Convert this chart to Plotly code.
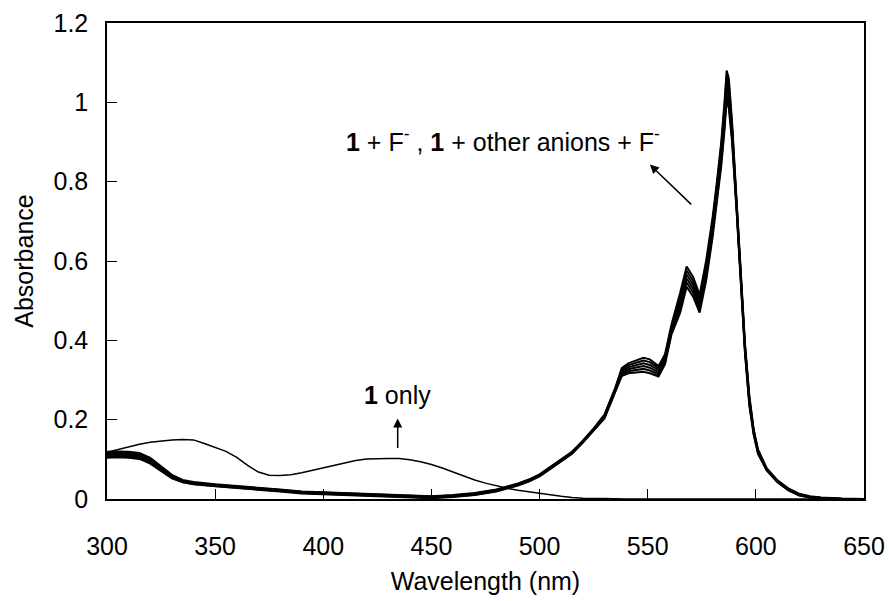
import plotly.graph_objects as go

# ---- data ----
wl_only = [300, 305, 310, 315, 320, 325, 330, 335, 340, 345, 350, 355, 360, 365, 370, 375,
           380, 385, 390, 395, 400, 405, 410, 415, 420, 425, 430, 435, 440, 445, 450, 455,
           460, 465, 470, 475, 480, 485, 490, 495, 500, 505, 510, 515, 520, 530, 540, 650]
abs_only = [0.118, 0.125, 0.132, 0.138, 0.143, 0.146, 0.149, 0.150, 0.149, 0.140, 0.130, 0.120,
            0.105, 0.085, 0.068, 0.060, 0.059, 0.061, 0.066, 0.072, 0.078, 0.085, 0.091, 0.097,
            0.101, 0.102, 0.102, 0.102, 0.099, 0.094, 0.087, 0.078, 0.068, 0.057, 0.048, 0.040,
            0.033, 0.027, 0.022, 0.018, 0.015, 0.011, 0.007, 0.004, 0.002, 0.001, 0.0, 0.0]

wl_f = [300, 305, 310, 315, 320, 325, 330, 335, 340, 350,
        360, 370, 380, 390, 400, 410, 420, 430, 440, 450,
        460, 470, 480, 490, 495, 500, 505, 510, 515, 520,
        525, 530, 535, 538, 541, 545, 548, 551, 555, 558,
        561, 565, 568, 571, 574, 577, 580, 582, 584, 585.5,
        586.5, 587.5, 589, 591, 593, 595, 597, 599, 601, 605,
        610, 615, 620, 625, 630, 635, 640, 650]

abs_f1 = [0.119, 0.120, 0.119, 0.116, 0.104, 0.083, 0.061, 0.048, 0.043, 0.037,
          0.033, 0.029, 0.024, 0.019, 0.017, 0.014, 0.012, 0.010, 0.008, 0.007,
          0.010, 0.015, 0.024, 0.039, 0.049, 0.062, 0.081, 0.099, 0.119, 0.147,
          0.178, 0.213, 0.280, 0.330, 0.342, 0.350, 0.356, 0.352, 0.335, 0.365,
          0.440, 0.520, 0.586, 0.560, 0.515, 0.600, 0.710, 0.800, 0.900, 1.000,
          1.080, 1.060, 0.950, 0.760, 0.560, 0.390, 0.260, 0.175, 0.125, 0.078,
          0.047, 0.027, 0.013, 0.007, 0.004, 0.002, 0.001, 0.0]
abs_f2 = [0.116, 0.117, 0.116, 0.113, 0.101, 0.080, 0.059, 0.046, 0.041, 0.036,
          0.032, 0.028, 0.023, 0.018, 0.016, 0.013, 0.011, 0.009, 0.007, 0.006,
          0.009, 0.014, 0.023, 0.038, 0.048, 0.061, 0.080, 0.098, 0.118, 0.146,
          0.176, 0.211, 0.278, 0.326, 0.337, 0.344, 0.349, 0.345, 0.330, 0.360,
          0.435, 0.510, 0.576, 0.550, 0.506, 0.590, 0.700, 0.790, 0.890, 0.990,
          1.065, 1.045, 0.940, 0.755, 0.555, 0.385, 0.255, 0.172, 0.122, 0.076,
          0.046, 0.026, 0.012, 0.006, 0.003, 0.001, 0.0, 0.0]
abs_f3 = [0.113, 0.114, 0.113, 0.110, 0.098, 0.078, 0.057, 0.045, 0.040, 0.035,
          0.031, 0.027, 0.022, 0.017, 0.015, 0.012, 0.010, 0.008, 0.006, 0.005,
          0.008, 0.013, 0.022, 0.037, 0.047, 0.060, 0.079, 0.097, 0.117, 0.145,
          0.175, 0.209, 0.276, 0.322, 0.332, 0.338, 0.342, 0.338, 0.325, 0.355,
          0.430, 0.500, 0.566, 0.540, 0.497, 0.580, 0.690, 0.780, 0.870, 0.970,
          1.050, 1.030, 0.930, 0.750, 0.550, 0.380, 0.250, 0.170, 0.120, 0.075,
          0.045, 0.025, 0.012, 0.006, 0.003, 0.001, 0.0, 0.0]
abs_f4 = [0.110, 0.111, 0.110, 0.107, 0.095, 0.075, 0.055, 0.044, 0.039, 0.034,
          0.030, 0.026, 0.021, 0.016, 0.014, 0.011, 0.009, 0.007, 0.005, 0.004,
          0.007, 0.012, 0.021, 0.036, 0.046, 0.059, 0.078, 0.096, 0.116, 0.144,
          0.174, 0.207, 0.274, 0.318, 0.327, 0.332, 0.335, 0.331, 0.319, 0.350,
          0.425, 0.490, 0.556, 0.530, 0.488, 0.570, 0.680, 0.770, 0.860, 0.960,
          1.035, 1.015, 0.920, 0.745, 0.545, 0.375, 0.245, 0.168, 0.118, 0.074,
          0.044, 0.024, 0.011, 0.005, 0.002, 0.001, 0.0, 0.0]
abs_f5 = [0.107, 0.108, 0.107, 0.104, 0.092, 0.073, 0.054, 0.043, 0.038, 0.033,
          0.029, 0.025, 0.020, 0.015, 0.013, 0.010, 0.008, 0.006, 0.004, 0.003,
          0.006, 0.011, 0.020, 0.035, 0.045, 0.058, 0.077, 0.095, 0.115, 0.143,
          0.173, 0.205, 0.272, 0.314, 0.322, 0.326, 0.328, 0.324, 0.314, 0.345,
          0.420, 0.480, 0.546, 0.520, 0.479, 0.560, 0.670, 0.760, 0.850, 0.940,
          1.020, 1.000, 0.910, 0.740, 0.540, 0.370, 0.240, 0.165, 0.116, 0.073,
          0.043, 0.023, 0.010, 0.004, 0.002, 0.0, 0.0, 0.0]
abs_f6 = [0.104, 0.105, 0.104, 0.101, 0.089, 0.071, 0.052, 0.042, 0.037, 0.032,
          0.028, 0.024, 0.019, 0.014, 0.012, 0.009, 0.007, 0.005, 0.003, 0.002,
          0.005, 0.010, 0.019, 0.034, 0.044, 0.057, 0.076, 0.094, 0.114, 0.142,
          0.172, 0.203, 0.270, 0.310, 0.317, 0.320, 0.321, 0.317, 0.309, 0.340,
          0.415, 0.470, 0.535, 0.510, 0.470, 0.550, 0.660, 0.750, 0.840, 0.930,
          1.005, 0.985, 0.900, 0.735, 0.535, 0.365, 0.235, 0.162, 0.114, 0.072,
          0.042, 0.022, 0.009, 0.004, 0.001, 0.0, 0.0, 0.0]

x_ticks = [300, 350, 400, 450, 500, 550, 600, 650]
y_ticks = [0, 0.2, 0.4, 0.6, 0.8, 1.0, 1.2]
y_tick_labels = ["0", "0.2", "0.4", "0.6", "0.8", "1", "1.2"]

FONT = "Liberation Sans, Arial, sans-serif"
FS = 25

fig = go.Figure()
fig.add_trace(go.Scatter(x=wl_only, y=abs_only, mode="lines",
                         line=dict(color="black", width=1.5), showlegend=False))
for s in [abs_f1, abs_f2, abs_f3, abs_f4, abs_f5, abs_f6]:
    fig.add_trace(go.Scatter(x=wl_f, y=s, mode="lines",
                             line=dict(color="black", width=2), showlegend=False))

# annotations
fig.add_annotation(x=556.5, y=0.905, xref="x", yref="y", xanchor="right", yanchor="middle",
                   text="<b>1</b> + F<sup>-</sup> , <b>1</b> + other anions + F<sup>-</sup>",
                   showarrow=False, font=dict(family=FONT, size=FS, color="black"))
fig.add_annotation(x=551.0, y=0.843, ax=570.8, ay=0.739, xref="x", yref="y",
                   axref="x", ayref="y", text="", showarrow=True,
                   arrowhead=2, arrowsize=1.2, arrowwidth=1.5, arrowcolor="black")
fig.add_annotation(x=434.3, y=0.261, xref="x", yref="y", xanchor="center", yanchor="middle",
                   text="<b>1</b> only", showarrow=False,
                   font=dict(family=FONT, size=FS, color="black"))
fig.add_annotation(x=434.4, y=0.203, ax=434.4, ay=0.125, xref="x", yref="y",
                   axref="x", ayref="y", text="", showarrow=True,
                   arrowhead=2, arrowsize=1.2, arrowwidth=1.5, arrowcolor="black")

fig.update_layout(
    width=889, height=601,
    margin=dict(l=107, r=25, t=23, b=102, autoexpand=False),
    paper_bgcolor="white", plot_bgcolor="white",
    font=dict(family=FONT, size=FS, color="black"),
    hovermode=False,
)
fig.update_xaxes(range=[300, 650], tickmode="array", tickvals=x_ticks,
                 ticktext=[str(v) for v in x_ticks], automargin=False,
                 showline=True, mirror=True, linecolor="black", linewidth=1.5,
                 ticks="inside", ticklen=10, tickwidth=1, tickcolor="black",
                 showgrid=False, zeroline=False, ticklabelstandoff=24,
                 tickfont=dict(family=FONT, size=FS),
                 title=dict(text="Wavelength (nm)", standoff=14,
                            font=dict(family=FONT, size=FS)))
fig.update_yaxes(range=[0, 1.2], tickmode="array", tickvals=y_ticks, ticktext=y_tick_labels,
                 automargin=False,
                 showline=True, mirror=True, linecolor="black", linewidth=1.5,
                 ticks="inside", ticklen=10, tickwidth=1, tickcolor="black",
                 showgrid=False, zeroline=False, ticklabelstandoff=12,
                 tickfont=dict(family=FONT, size=FS),
                 title=dict(text="Absorbance", standoff=13,
                            font=dict(family=FONT, size=FS)))

fig.write_html("out.html", config={"displayModeBar": False},
               post_script="document.body.style.margin='0';document.body.style.overflow='hidden';")
